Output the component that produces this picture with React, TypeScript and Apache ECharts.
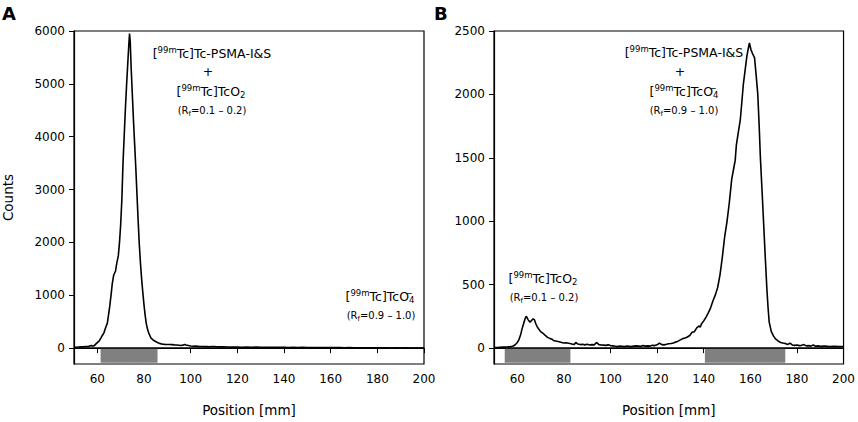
import React, { useEffect, useRef } from "react";
import * as echarts from "echarts";

const FONT = "DejaVu Sans";

// Panel A radio-TLC profile: [position mm, counts]
const profileA: number[][] = [
  [50, 20], [51, 18], [52, 22], [53, 25], [54, 24], [55, 30], [56, 28], [57, 45], [57.5, 50], [58, 38],
  [58.5, 45], [59, 60], [59.5, 85], [60, 105], [60.7, 131], [61.5, 190], [62, 230], [62.8, 286], [63.5, 380],
  [64.3, 473], [65.3, 785], [66, 1050], [66.4, 1221], [67, 1380], [67.8, 1460], [68.3, 1600], [69, 1750],
  [69.5, 2000], [70, 2340], [70.5, 2800], [71, 3500], [71.5, 4000], [72, 4500], [72.5, 4950], [73, 5350],
  [73.5, 5750], [73.8, 5950], [74.1, 5800], [74.5, 5300], [75, 4800], [75.5, 4300], [76, 3850], [76.5, 3400],
  [77, 2900], [77.5, 2400], [78, 1950], [78.5, 1600], [79, 1300], [79.5, 1050], [80, 820], [80.5, 620],
  [81, 460], [81.5, 360], [82, 290], [82.5, 240], [83, 190], [84, 150], [85, 125], [86, 100], [87, 85],
  [88, 75], [89, 72], [90, 70], [91, 68], [92, 66], [93, 62], [94, 60], [95, 55], [96, 50], [97, 62],
  [97.5, 70], [98, 60], [99, 50], [100, 40], [101, 36], [102, 38], [103, 34], [104, 30], [105, 32], [106, 28],
  [107, 30], [108, 26], [109, 28], [110, 30], [111, 25], [112, 24], [114, 26], [116, 22], [118, 20], [120, 22],
  [122, 18], [124, 20], [126, 17], [128, 19], [130, 16], [132, 18], [134, 15], [136, 17], [138, 14], [140, 16],
  [142, 13], [144, 15], [146, 12], [148, 14], [150, 11], [152, 13], [154, 10], [156, 12], [158, 10], [160, 11],
  [162, 9], [164, 10], [166, 8], [168, 9], [170, 7], [172, 8], [174, 6], [176, 7], [178, 6], [180, 5],
  [182, 6], [184, 5], [186, 4], [188, 5], [190, 4], [192, 5], [194, 3], [196, 4], [198, 3], [200, 4],
];

// Panel B radio-TLC profile: [position mm, counts]
const profileB: number[][] = [
  [50, 5], [52, 6], [54, 8], [56, 10], [57, 12], [58, 15], [59, 25], [60, 45], [60.6, 62], [61.5, 110],
  [62, 150], [62.7, 192], [63.3, 230], [63.8, 250], [64.1, 245], [64.6, 225], [65, 215], [65.5, 205],
  [66.2, 220], [66.8, 231], [67.3, 225], [68, 190], [68.5, 170], [69.1, 153], [70, 130], [71.2, 114],
  [72, 100], [73, 85], [74.1, 75], [75, 70], [75.5, 60], [76.9, 55], [78, 50], [79, 45], [80, 40], [81, 42],
  [82, 38], [82.6, 36], [83.5, 32], [84.5, 30], [85.1, 45], [86, 32], [87, 28], [88, 30], [89, 26], [90, 30],
  [91, 25], [92, 28], [93, 26], [94, 45], [95, 28], [96, 25], [97, 24], [98, 22], [99, 26], [100, 20],
  [101, 18], [102, 15], [103, 12], [104, 16], [105, 14], [106, 12], [107, 16], [108, 14], [109, 12], [110, 16],
  [111, 18], [112, 16], [113, 14], [114, 20], [115, 16], [116, 18], [117, 16], [118, 22], [119, 20], [120, 26],
  [121, 40], [122, 28], [123, 26], [124, 30], [125, 35], [126, 36], [127, 40], [128, 48], [129, 55], [130, 65],
  [131, 75], [132, 80], [133, 88], [134, 100], [135, 125], [136, 130], [137, 160], [138, 175], [138.5, 165],
  [139, 190], [140, 215], [141, 245], [142, 280], [143, 320], [144, 375], [145, 420], [146, 480], [147, 580],
  [148, 720], [149, 880], [150, 1000], [151, 1150], [152, 1330], [152.9, 1420], [153.5, 1480], [154, 1600],
  [155, 1720], [155.7, 1800], [156.4, 1950], [157, 2080], [157.9, 2211], [158.5, 2300], [159, 2350],
  [159.6, 2406], [160.3, 2350], [161, 2320], [161.8, 2290], [162.5, 2150], [163.2, 2000], [163.8, 1750],
  [164.3, 1508], [165, 1250], [165.7, 987], [166.4, 720], [167.1, 466], [167.6, 320], [168.1, 205], [169, 130],
  [170, 95], [170.7, 75], [172, 55], [173, 45], [174, 40], [175, 36], [176, 28], [177, 40], [178, 25],
  [179, 22], [180, 25], [181, 20], [182, 22], [183, 28], [184, 18], [185, 20], [186, 16], [187, 25], [188, 15],
  [189, 18], [190, 14], [192, 16], [194, 12], [196, 14], [198, 12], [200, 13],
];

const xRange = [50, 200];
const xTicks = [60, 80, 100, 120, 140, 160, 180, 200];
const yRangeA = [-300, 6000];
const yTicksA = [0, 1000, 2000, 3000, 4000, 5000, 6000];
const yRangeB = [-125, 2500];
const yTicksB = [0, 500, 1000, 1500, 2000, 2500];

// Integration regions (gray bars) in mm and their depth below zero
const bandsA = [[61.4, 85.8]];
const bandsB = [[54.6, 82.8], [140.5, 175.0]];
const bandDepthA = -275;
const bandDepthB = -115;

const xTitle = "Position [mm]";
const yTitle = "Counts";
const panelLetters = ["A", "B"];

const lblPSMA = "[{sup|99m}Tc]Tc-PSMA-I&S";
const lblPlus = "+";
const lblTcO2 = "[{sup|99m}Tc]TcO{sub|2}";
const lblTcO4 = "[{sup|99m}Tc]TcO{supz|−}{sub|4}";
const lblRf12 = "(R{sub|f}=0.1 – 0.2)";
const lblRf910 = "(R{sub|f}=0.9 – 1.0)";

const richBig = {
  sup: { fontSize: 8.5, lineHeight: 9, verticalAlign: "top", fontFamily: FONT, fill: "#000" },
  sub: { fontSize: 8.5, lineHeight: 9, verticalAlign: "bottom", fontFamily: FONT, fill: "#000" },
  supz: { fontSize: 8.5, lineHeight: 9, verticalAlign: "top", fontFamily: FONT, fill: "#000", width: 0, align: "left" },
};
const richSmall = {
  sub: { fontSize: 7, lineHeight: 8, verticalAlign: "bottom", fontFamily: FONT, fill: "#000" },
};

function bigText(text: string, x: number, y: number) {
  return {
    type: "text",
    x,
    y,
    z: 100,
    style: {
      text,
      fontSize: 12.5,
      lineHeight: 16,
      fontFamily: FONT,
      fill: "#000",
      align: "center",
      verticalAlign: "middle",
      rich: richBig,
    },
  };
}
function smallText(text: string, x: number, y: number) {
  return {
    type: "text",
    x,
    y,
    z: 100,
    style: {
      text,
      fontSize: 10,
      lineHeight: 14,
      fontFamily: FONT,
      fill: "#000",
      align: "center",
      verticalAlign: "middle",
      rich: richSmall,
    },
  };
}

const axisText = { color: "#000", fontFamily: FONT, fontSize: 12, formatter: (v: number) => String(v) };

function makeX(gridIndex: number) {
  return {
    type: "value",
    gridIndex,
    min: xRange[0],
    max: xRange[1],
    name: xTitle,
    nameLocation: "middle",
    nameGap: 39,
    nameTextStyle: { color: "#000", fontFamily: FONT, fontSize: 13.5 },
    axisLine: { show: true, lineStyle: { color: "#000", width: 1.2 } },
    axisTick: { show: true, inside: false, length: 5, customValues: xTicks, lineStyle: { color: "#000", width: 1 } },
    axisLabel: { ...axisText, margin: 9, customValues: xTicks },
    splitLine: { show: false },
  };
}

function makeY(gridIndex: number, range: number[], ticks: number[], withName: boolean) {
  return {
    type: "value",
    gridIndex,
    min: range[0],
    max: range[1],
    name: withName ? yTitle : "",
    nameLocation: "middle",
    nameGap: 59,
    nameTextStyle: { color: "#000", fontFamily: FONT, fontSize: 13.5 },
    axisLine: { show: true, lineStyle: { color: "#000", width: 1.2 } },
    axisTick: { show: true, inside: false, length: 5, customValues: ticks, lineStyle: { color: "#000", width: 1 } },
    axisLabel: { ...axisText, margin: 9, customValues: ticks },
    splitLine: { show: false },
  };
}

function makeSeries(idx: number, data: number[][], bands: number[][], depth: number) {
  return {
    type: "line",
    xAxisIndex: idx,
    yAxisIndex: idx,
    data,
    showSymbol: false,
    symbol: "none",
    lineStyle: { color: "#000", width: 1.6 },
    z: 5,
    markArea: {
      silent: true,
      itemStyle: { color: "#808080", opacity: 1 },
      data: bands.map(([a, b]) => [
        { xAxis: a, yAxis: 0 },
        { xAxis: b, yAxis: depth },
      ]),
    },
    markLine: {
      silent: true,
      symbol: ["none", "none"],
      label: { show: false },
      lineStyle: { color: "#000", width: 1.6, type: "solid" },
      data: [{ yAxis: 0 }],
    },
  };
}

export default function App() {
  const ref = useRef<HTMLDivElement>(null);
  useEffect(() => {
    if (!ref.current) return;
    const chart = echarts.init(ref.current, undefined, { renderer: "svg" });
    const grids = [
      { left: 73, top: 31, width: 351, height: 337 },
      { left: 494, top: 31, width: 351, height: 337 },
    ].map((g) => ({ ...g, show: true, borderColor: "#000", borderWidth: 1.2, backgroundColor: "transparent" }));

    chart.setOption({
      animation: false,
      backgroundColor: "#fff",
      grid: grids,
      xAxis: [makeX(0), makeX(1)],
      yAxis: [makeY(0, yRangeA, yTicksA, true), makeY(1, yRangeB, yTicksB, false)],
      series: [makeSeries(0, profileA, bandsA, bandDepthA), makeSeries(1, profileB, bandsB, bandDepthB)],
      graphic: [
        {
          type: "text",
          x: 2,
          y: 4,
          style: { text: panelLetters[0], fontSize: 18, fontWeight: "bold", fontFamily: FONT, fill: "#000", verticalAlign: "top" },
        },
        {
          type: "text",
          x: 434,
          y: 4,
          style: { text: panelLetters[1], fontSize: 18, fontWeight: "bold", fontFamily: FONT, fill: "#000", verticalAlign: "top" },
        },
        bigText(lblPSMA, 212, 53),
        bigText(lblPlus, 208, 71),
        bigText(lblTcO2, 211, 91),
        smallText(lblRf12, 212, 110),
        bigText(lblTcO4, 380, 296),
        smallText(lblRf910, 381, 315),
        bigText(lblPSMA, 684, 52),
        bigText(lblPlus, 680, 71),
        bigText(lblTcO4, 684, 91),
        smallText(lblRf910, 684, 110),
        bigText(lblTcO2, 543, 278),
        smallText(lblRf12, 544, 297),
      ],
    });
    return () => chart.dispose();
  }, []);
  return (
    <div
      ref={ref}
      style={{ position: "fixed", left: 0, top: 0, width: 858, height: 422, background: "#fff" }}
    />
  );
}
